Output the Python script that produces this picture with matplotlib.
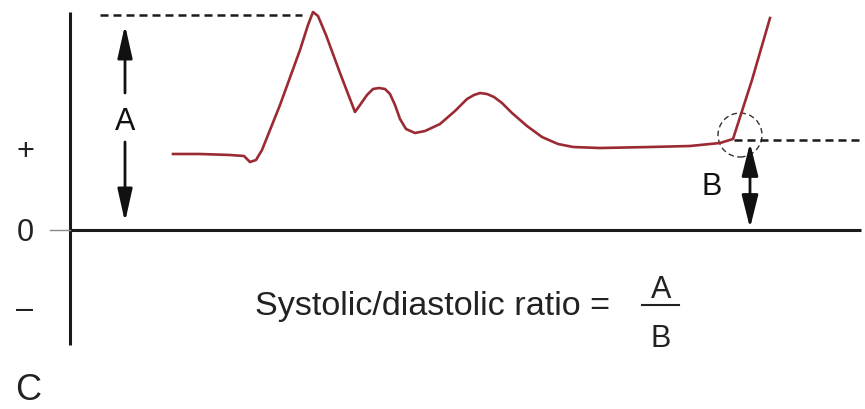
import matplotlib
matplotlib.use("Agg")
import matplotlib.pyplot as plt
from matplotlib.patches import Circle

plt.rcParams['font.family'] = ['Liberation Sans', 'DejaVu Sans']

# Doppler waveform (time in px-like units, velocity above baseline)
time = [173, 200, 230, 244, 250, 256, 262, 280, 300, 308, 313, 318, 326, 340, 355,
        360, 367, 373, 379, 385, 390, 395, 400, 406, 415, 425, 440, 455, 467, 474, 480,
        487, 494, 502, 512, 527, 542, 558, 573, 600, 650, 690, 720, 733, 752, 770]
velocity = [76, 76, 75, 74, 68, 70, 80, 125, 180, 205, 218, 214, 195, 157, 118,
            125, 135, 141, 142, 141, 136, 125, 111, 101, 97, 99, 106, 119, 131, 135, 137,
            136, 133, 127, 117, 104, 93, 86, 83, 82, 83, 84, 87, 91, 150, 212]

axis_labels = ['+', '0', '–']
axis_label_values = [78, -3, -80]
peak_value = 215        # A (systolic peak)
diastolic_value = 90    # B (end-diastolic)

fig = plt.figure(figsize=(8.65, 4.09), dpi=100)
ax = fig.add_axes([0, 0, 1, 1])
ax.set_xlim(0, 865)
ax.set_ylim(-179, 230)
ax.axis('off')

# axes lines
ax.plot([70, 70], [218, -115], color='#1a1a1a', lw=2.2, solid_capstyle='butt')
ax.plot([70, 861], [0, 0], color='#1a1a1a', lw=2.2, solid_capstyle='butt')
ax.plot([50, 70], [0, 0], color='#888888', lw=1.0)

# waveform
ax.plot(time, velocity, color='#9b2a33', lw=1.9, solid_joinstyle='round')

# dashed reference lines
ax.plot([100, 302], [peak_value, peak_value], color='#1a1a1a', lw=1.8,
        linestyle=(0, (3.2, 2.0)))
ax.plot([734, 862], [diastolic_value, diastolic_value], color='#1a1a1a', lw=1.8,
        linestyle=(0, (3.2, 2.0)))

# circle around end-diastolic point
ax.add_patch(Circle((740, 95), 22, fill=False, ec='#333333', lw=1.0,
                    linestyle=(0, (4, 2.5))))

# arrow A
ap = dict(arrowstyle='-|>,head_length=2.0,head_width=0.45', color='#111111',
          lw=2.0, mutation_scale=10, shrinkA=0, shrinkB=0)
ax.annotate('', xy=(125, 205), xytext=(125, 137), arrowprops=ap)
ax.annotate('', xy=(125, 8), xytext=(125, 88), arrowprops=ap)
ax.text(125, 108, 'A', ha='center', va='center', fontsize=22, color='#111111')

# arrow B
apb = dict(arrowstyle='<|-|>,head_length=2.0,head_width=0.5', color='#111111',
           lw=2.0, mutation_scale=10, shrinkA=0, shrinkB=0)
ax.annotate('', xy=(750, 87), xytext=(750, 2), arrowprops=apb)
ax.text(712, 43, 'B', ha='center', va='center', fontsize=22, color='#111111')

# y labels
for lab, v in zip(axis_labels, axis_label_values):
    ax.text(25, v, lab, ha='center', va='center', fontsize=22, color='#222222')

ax.text(15, -160, 'C', ha='left', va='center', fontsize=26, color='#222222')

# formula
ax.text(255, -85, 'Systolic/diastolic ratio =', ha='left', va='baseline',
        fontsize=24.6, color='#222222')
ax.text(661, -68, 'A', ha='center', va='baseline', fontsize=22, color='#222222')
ax.plot([642, 679], [-75, -75], color='#222222', lw=1.5)
ax.text(661, -117, 'B', ha='center', va='baseline', fontsize=22, color='#222222')

fig.savefig('out.png', dpi=100)
